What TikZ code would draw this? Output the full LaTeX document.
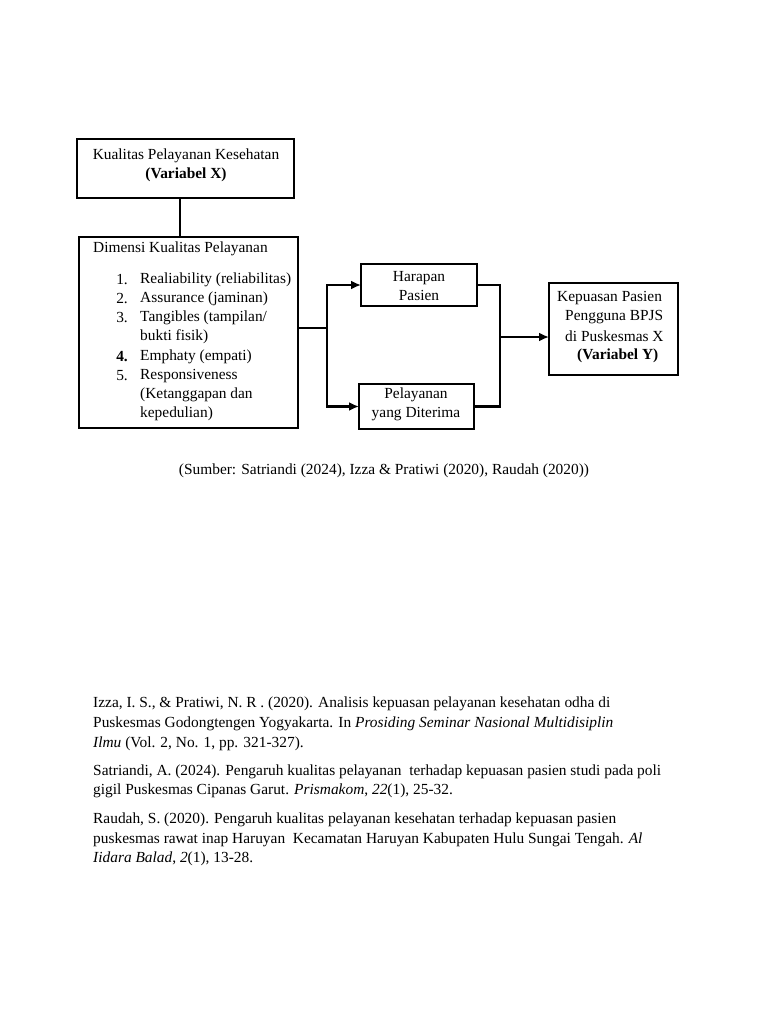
\documentclass[tikz,border=0pt]{standalone}
\usepackage{fontspec}
\setmainfont{Liberation Serif}
\usetikzlibrary{arrows.meta,calc}
\begin{document}
\begin{tikzpicture}[x=1pt,y=-1pt,
  box/.style={draw, line width=2.8pt, inner sep=0pt, outer sep=0pt},
  conn/.style={line width=2.7pt},
  arr/.style={conn, -{Latex[length=10pt,width=9pt]}},
  txt/.style={font=\fontsize{15.4}{19}\selectfont, inner sep=0pt},
  ref/.style={font=\fontsize{15.4}{20}\selectfont, inner sep=0pt, anchor=west}]
\useasboundingbox[fill=white] (0,0) rectangle (768,1024);

% boxes
\node[box, minimum width=217pt, minimum height=59pt] (b1) at (185.5,168.5) {};
\node[box, minimum width=219pt, minimum height=191pt] (b2) at (188.5,332.5) {};
\node[box, minimum width=116pt, minimum height=42pt] (hp) at (419,285) {};
\node[box, minimum width=115pt, minimum height=45pt] (pd) at (416.5,406.5) {};
\node[box, minimum width=129pt, minimum height=92pt] (kp) at (613.5,329) {};

% box 1 text
\node[txt, align=center] (t1) at (186,165) {Kualitas Pelayanan Kesehatan\\\textbf{(Variabel X)}};

% box 2 text
\node[txt, anchor=west] (t2) at (93,249) {Dimensi Kualitas Pelayanan};
\node[txt, anchor=east] (n1) at (128,280) {1.};
\node[txt, anchor=west] (i1) at (140,280) {Realiability (reliabilitas)};
\node[txt, anchor=east] (n2) at (128,299) {2.};
\node[txt, anchor=west] (i2) at (140,299) {Assurance (jaminan)};
\node[txt, anchor=east] (n3) at (128,318) {3.};
\node[txt, anchor=west] (i3) at (140,318) {Tangibles (tampilan/};
\node[txt, anchor=west] (i3b) at (140,337) {bukti fisik)};
\node[txt, anchor=east] (n4) at (128,357) {\textbf{4.}};
\node[txt, anchor=west] (i4) at (140,357) {Emphaty (empati)};
\node[txt, anchor=east] (n5) at (128,376) {5.};
\node[txt, anchor=west] (i5) at (140,376) {Responsiveness};
\node[txt, anchor=west] (i5b) at (140,395) {(Ketanggapan dan};
\node[txt, anchor=west] (i5c) at (140,414) {kepedulian)};

% small boxes text
\node[txt, align=center] (th) at (419,286.5) {Harapan\\Pasien};
\node[txt, align=center] (tp) at (416,404.5) {Pelayanan\\yang Diterima};

% kepuasan text
\node[txt, anchor=west] (k1) at (557,298) {Kepuasan Pasien};
\node[txt, anchor=west] (k2) at (565,317) {Pengguna BPJS};
\node[txt, anchor=west] (k3) at (565,336) {di Puskesmas X};
\node[txt, anchor=west] (k4) at (577,356) {\textbf{(Variabel Y)}};

% connectors
\coordinate (v) at (180,0);
\draw[conn] (b1.south -| v) -- (b2.north -| v);
\coordinate (j1) at (327,328);
\draw[conn] (b2.east |- j1) -- (j1);
\draw[arr] (j1) |- (hp.west);
\draw[arr] (j1) |- (pd.west);
\coordinate (j2) at (500,337);
\draw[conn] (hp.east) -| (j2) |- (pd.east);
\draw[arr] (j2) -- (kp.west |- j2);

% caption
\node[ref, anchor=center] (cap) at (384,471) {(Sumber: Satriandi (2024), Izza \& Pratiwi (2020), Raudah (2020))};

% references
\node[ref] (r1a) at (93,704) {Izza, I. S., \& Pratiwi, N. R . (2020). Analisis kepuasan pelayanan kesehatan odha di};
\node[ref] (r1b) at (93,724) {Puskesmas Godongtengen Yogyakarta. In \textit{Prosiding Seminar Nasional Multidisiplin}};
\node[ref] (r1c) at (93,744) {\textit{Ilmu} (Vol. 2, No. 1, pp. 321-327).};
\node[ref] (r2a) at (93,772) {Satriandi, A. (2024). Pengaruh kualitas pelayanan\ \ terhadap kepuasan pasien studi pada poli};
\node[ref] (r2b) at (93,791) {gigil Puskesmas Cipanas Garut. \textit{Prismakom}, \textit{22}(1), 25-32.};
\node[ref] (r3a) at (93,820) {Raudah, S. (2020). Pengaruh kualitas pelayanan kesehatan terhadap kepuasan pasien};
\node[ref] (r3b) at (93,840) {puskesmas rawat inap Haruyan\ \ Kecamatan Haruyan Kabupaten Hulu Sungai Tengah. \textit{Al}};
\node[ref] (r3c) at (93,859) {\textit{Iidara Balad}, \textit{2}(1), 13-28.};
\end{tikzpicture}
\end{document}
